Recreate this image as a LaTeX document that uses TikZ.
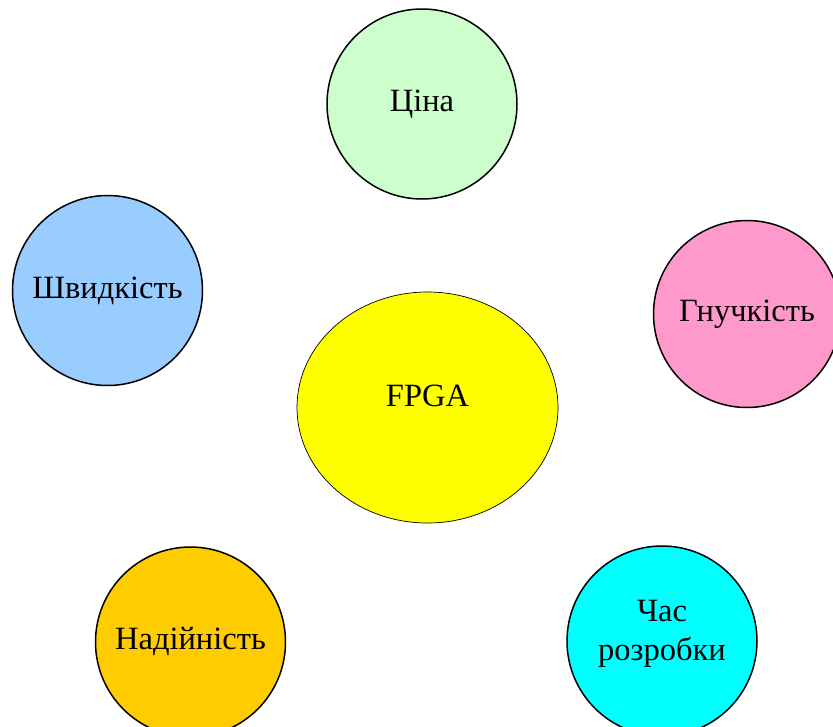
\documentclass[tikz,border=0pt]{standalone}
\usepackage{fontspec}
\setmainfont{Liberation Serif}
\usetikzlibrary{shapes.geometric}
\definecolor{pricecol}{RGB}{204,255,204}
\definecolor{speedcol}{RGB}{153,204,255}
\definecolor{flexcol}{RGB}{255,153,204}
\definecolor{relcol}{RGB}{255,204,0}
\definecolor{devcol}{RGB}{0,255,255}
\definecolor{fpgacol}{RGB}{255,255,0}

\begin{document}
\begin{tikzpicture}[x=1pt, y=-1pt,
  every node/.style={font=\fontsize{32.5}{39}\selectfont},
  feature/.style={circle, draw, line width=1.5pt, minimum size=190pt, inner sep=0pt, align=center}]
  % page 833x726
  \useasboundingbox (0,0) rectangle (833,726);
  % centre
  \node[ellipse, draw, line width=0.7pt, fill=fpgacol, minimum width=261pt, minimum height=231pt] (fpga) at (427.5,407.5) {};
  \node (fpgalabel) at ([yshift=12pt]fpga.center) {FPGA};
  % features round it
  \node[feature, fill=pricecol] (price) at (422,104) {Ціна};
  \node[feature, fill=speedcol] (speed) at (107.5,290.5) {Швидкість};
  \node[feature, fill=flexcol, minimum size=187pt] (flex) at (747,314) {Гнучкість};
  \node[feature, fill=relcol] (rely) at (190.5,642) {Надійність};
  \node[feature, fill=devcol] (devtime) at (662,641) {};
  \node[align=center] (devlabel) at ([yshift=7pt]devtime.center) {Час\\розробки};
\end{tikzpicture}
\end{document}
